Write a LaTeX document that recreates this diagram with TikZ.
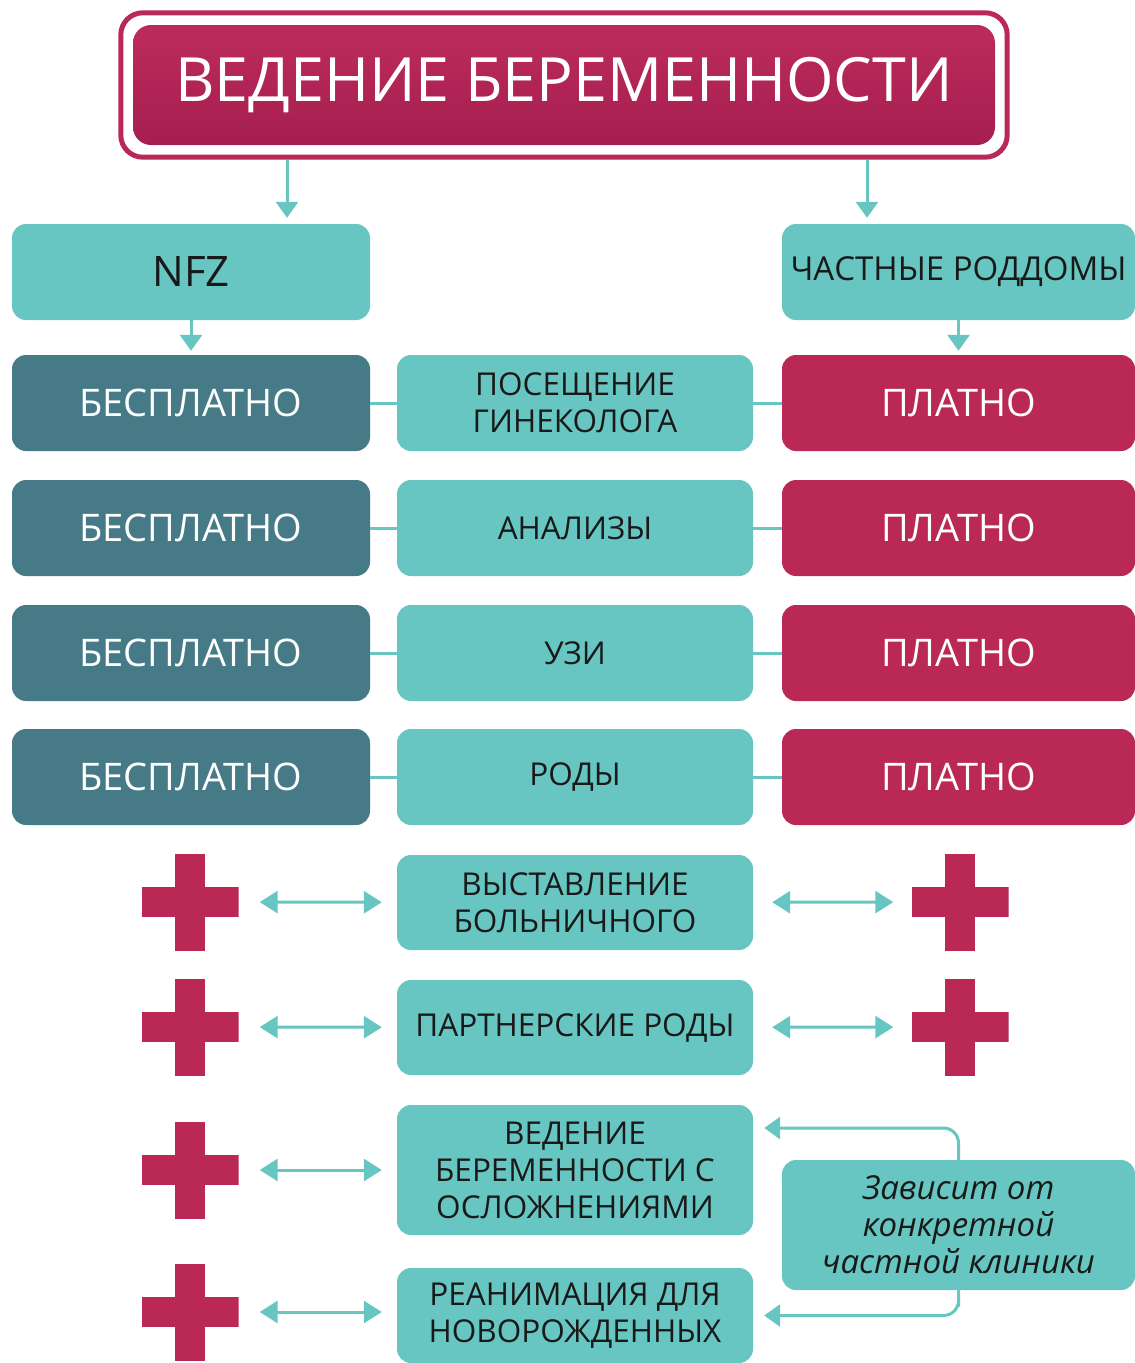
\documentclass[tikz,border=0pt]{standalone}
\usepackage{fontspec}
\setmainfont{Open Sans}
\usetikzlibrary{arrows.meta}
\definecolor{aqua}{HTML}{67C6C1}
\definecolor{petrol}{HTML}{457A86}
\definecolor{berry}{HTML}{BA2956}
\definecolor{berrylight}{HTML}{BC2C5B}
\definecolor{berrydark}{HTML}{A51E50}
\tikzset{
  box/.style={rectangle, rounded corners=14pt, minimum height=96pt, inner sep=0pt, align=center},
  srv/.style={box, fill=aqua, text=black!90, minimum width=356pt, font=\fontsize{31.5}{37}\selectfont},
  free/.style={box, fill=petrol, text=white, minimum width=358pt, font=\fontsize{38}{44}\selectfont},
  paid/.style={box, fill=berry, text=white, minimum width=353pt, font=\fontsize{38}{44}\selectfont},
  plusmark/.style={minimum size=97pt, inner sep=0pt, path picture={
    \fill[berry] ([yshift=-15pt]path picture bounding box.west) rectangle ([yshift=15pt]path picture bounding box.east);
    \fill[berry] ([xshift=-15pt]path picture bounding box.south) rectangle ([xshift=15pt]path picture bounding box.north);}},
  arr/.style={draw=aqua, line width=3pt, -{Triangle[width=22pt,length=16pt]}},
  link/.style={draw=aqua, line width=3pt},
  both/.style={draw=aqua, line width=3pt, {Triangle[width=22pt,length=18pt]}-{Triangle[width=22pt,length=18pt]}},
}
\begin{document}
\begin{tikzpicture}[x=1pt, y=-1pt]
  \useasboundingbox (0,0) rectangle (1135,1363);
  \node (title) [box, minimum width=862pt, minimum height=120pt, rounded corners=18pt, top color=berrylight, bottom color=berrydark, text=white, font=\fontsize{61}{70}\selectfont] at (564,85) {ВЕДЕНИЕ БЕРЕМЕННОСТИ};
  \draw[berry, line width=5pt, rounded corners=22pt] ([shift={(-12pt,12pt)}]title.north west) rectangle ([shift={(12pt,-12pt)}]title.south east);
  \coordinate (t1) at (287,160); \coordinate (t2) at (867,160);

  \node (nfz) [srv, minimum width=358pt, font=\fontsize{42}{44}\selectfont] at (191,272) {NFZ}; \node (priv) [srv, minimum width=353pt, font=\fontsize{33}{37}\selectfont] at (958.5,272) {ЧАСТНЫЕ РОДДОМЫ};

  \node (free1) [free] at (191,403) {БЕСПЛАТНО}; \node (visit) [srv] at (575,403) {ПОСЕЩЕНИЕ\\ГИНЕКОЛОГА}; \node (paid1) [paid] at (958.5,403) {ПЛАТНО};
  \node (free2) [free] at (191,528) {БЕСПЛАТНО}; \node (tests) [srv] at (575,528) {АНАЛИЗЫ}; \node (paid2) [paid] at (958.5,528) {ПЛАТНО};
  \node (free3) [free] at (191,653) {БЕСПЛАТНО}; \node (usg) [srv] at (575,653) {УЗИ}; \node (paid3) [paid] at (958.5,653) {ПЛАТНО};
  \node (free4) [free] at (191,777) {БЕСПЛАТНО}; \node (birth) [srv] at (575,777) {РОДЫ}; \node (paid4) [paid] at (958.5,777) {ПЛАТНО};

  \node (sick) [srv, minimum height=95pt] at (575,902.5) {ВЫСТАВЛЕНИЕ\\БОЛЬНИЧНОГО};
  \node (partner) [srv, minimum height=95pt] at (575,1027.5) {ПАРТНЕРСКИЕ РОДЫ};
  \node (compl) [srv, minimum height=130pt] at (575,1170) {ВЕДЕНИЕ\\БЕРЕМЕННОСТИ С\\ОСЛОЖНЕНИЯМИ};
  \node (reanim) [srv, minimum height=95pt] at (575,1315.5) {РЕАНИМАЦИЯ ДЛЯ\\НОВОРОЖДЕННЫХ};
  \node (note) [srv, minimum width=353pt, minimum height=130pt, font=\fontsize{33}{37}\selectfont\itshape] at (958.5,1225) {Зависит от\\конкретной\\частной клиники};

  \node (plusL1) [plusmark] at (190,902) {}; \node (plusR1) [plusmark] at (960,902) {};
  \node (plusL2) [plusmark] at (190,1027) {}; \node (plusR2) [plusmark] at (960,1027) {};
  \node (plusL3) [plusmark] at (190,1170) {};
  \node (plusL4) [plusmark] at (190,1312) {};

  \draw[arr, shorten >=6pt] (t1) -- (t1 |- nfz.north); \draw[arr, shorten >=6pt] (t2) -- (t2 |- priv.north);
  \draw[arr, shorten >=4pt] (nfz) -- (free1); \draw[arr, shorten >=4pt] (priv) -- (paid1);
  \draw[link] (free1) -- (visit); \draw[link] (visit) -- (paid1);
  \draw[link] (free2) -- (tests); \draw[link] (tests) -- (paid2);
  \draw[link] (free3) -- (usg); \draw[link] (usg) -- (paid3);
  \draw[link] (free4) -- (birth); \draw[link] (birth) -- (paid4);
  \draw[both, shorten <=21pt, shorten >=15pt] (plusL1) -- (sick); \draw[both, shorten <=19pt, shorten >=18pt] (sick) -- (plusR1);
  \draw[both, shorten <=21pt, shorten >=15pt] (plusL2) -- (partner); \draw[both, shorten <=19pt, shorten >=18pt] (partner) -- (plusR2);
  \draw[both, shorten <=21pt, shorten >=15pt] (plusL3) -- (compl);
  \draw[both, shorten <=21pt, shorten >=15pt] (plusL4) -- (plusL4 -| reanim.west);
  \draw[arr, rounded corners=15pt, shorten >=11pt] (note.north) |- ([yshift=42pt]compl.east);
  \draw[arr, rounded corners=15pt, shorten >=11pt] (note.south) |- (note.south |- reanim.east) -- (reanim.east);
\end{tikzpicture}
\end{document}
